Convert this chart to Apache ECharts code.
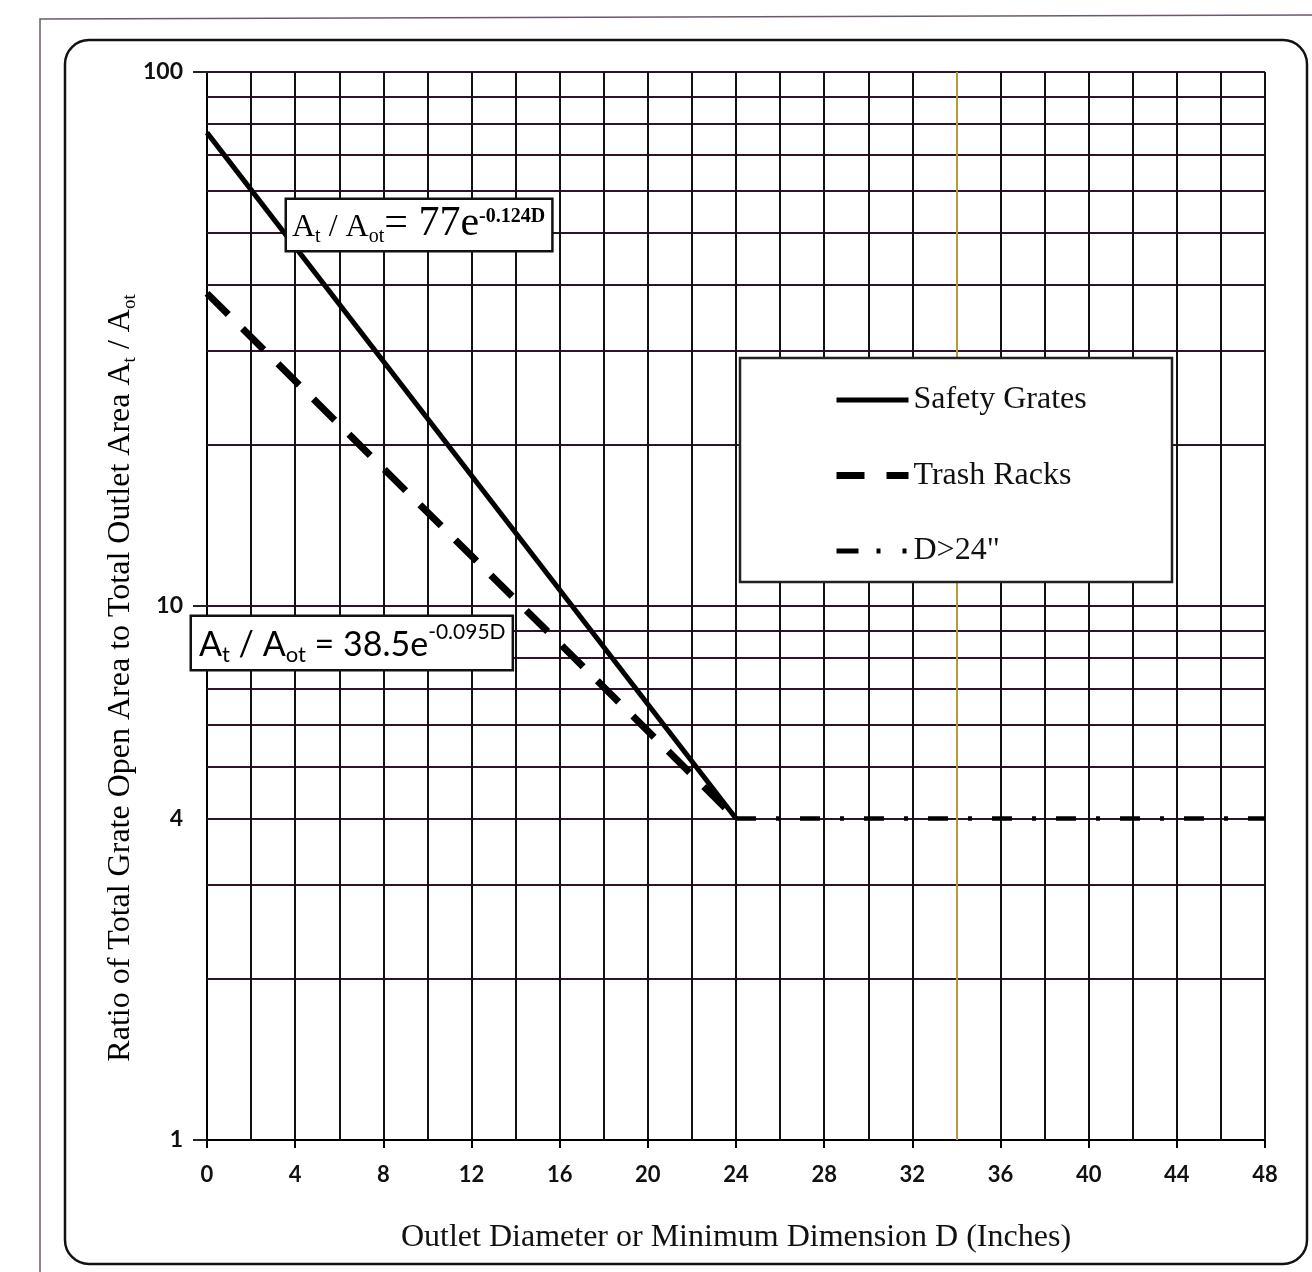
<!DOCTYPE html>
<html>
<head>
<meta charset="utf-8">
<script src="https://cdn.jsdelivr.net/npm/echarts@6/dist/echarts.min.js"></script>
<style>
html,body{margin:0;padding:0;background:#fff;}
#chart{width:1312px;height:1272px;}
</style>
</head>
<body>
<div id="chart"></div>
<script>
// ---- data ----
const xTickLabels = [0, 4, 8, 12, 16, 20, 24, 28, 32, 36, 40, 44, 48];
const xGridLines = [2, 4, 6, 8, 10, 12, 14, 16, 18, 20, 22, 24, 26, 28, 30, 32, 34, 36, 38, 40, 42, 44, 46, 48];
const yTickLabels = [1, 4, 10, 100];
const yMajorTicks = [1, 10, 100];
const yGridValues = [2, 3, 4, 5, 6, 7, 8, 9, 10, 20, 30, 40, 50, 60, 70, 80, 90, 100];
const highlightX = [34];

const seriesNames = ['Safety Grates', 'Trash Racks', 'D>24"'];
const safetyD = [0, 24];
const safetyRatio = [77, 4];
const trashD = [0, 24];
const trashRatio = [38.5, 4];
const largeD = [24, 48];
const largeRatio = [4, 4];

const pairs = (xs, ys) => xs.map((x, i) => [x, ys[i]]);

const chart = echarts.init(document.getElementById('chart'), null, {renderer: 'canvas', width: 1312, height: 1272});

const serif = 'Liberation Serif, Times New Roman, serif';
const sans = 'Lato, Open Sans, sans-serif';

const hLines = yGridValues.map(v => ({yAxis: v}));
const vLines = xGridLines.map(v => ({
  xAxis: v,
  lineStyle: highlightX.indexOf(v) >= 0
    ? {color: '#b39a3c', width: 2, type: 'solid'}
    : {color: '#111', width: 2, type: 'solid'}
}));

const option = {
  backgroundColor: '#fff',
  animation: false,
  grid: {left: 207, right: 47, top: 72, bottom: 132, containLabel: false},
  xAxis: {
    type: 'value', min: 0, max: 48, interval: 4,
    name: 'Outlet Diameter or Minimum Dimension D (Inches)',
    nameLocation: 'middle', nameGap: 82,
    nameTextStyle: {fontFamily: serif, fontSize: 32, color: '#111'},
    axisLine: {show: true, onZero: false, lineStyle: {color: '#000', width: 2}},
    axisTick: {show: true, customValues: xTickLabels, length: 8, lineStyle: {color: '#000', width: 2}},
    axisLabel: {customValues: xTickLabels, margin: 24, fontFamily: sans, fontWeight: 'bold', fontSize: 22, color: '#111'},
    splitLine: {show: false}
  },
  yAxis: {
    type: 'log', logBase: 10, min: 1, max: 100,
    axisLine: {show: true, onZero: false, lineStyle: {color: '#000', width: 2}},
    axisTick: {show: true, customValues: yMajorTicks, length: 14, lineStyle: {color: '#222', width: 2}},
    axisLabel: {customValues: yTickLabels, margin: 24, fontFamily: sans, fontWeight: 'bold', fontSize: 23, color: '#111'},
    splitLine: {show: false}
  },
  legend: {
    orient: 'vertical', left: 833, top: 384, padding: 0,
    itemWidth: 72, itemHeight: 28, itemGap: 43.5,
    itemStyle: {opacity: 0},
    textStyle: {fontFamily: serif, fontSize: 32, color: '#111', lineHeight: 28},
    data: [
      {name: seriesNames[0], lineStyle: {type: 'solid', width: 5, color: '#000'}},
      {name: seriesNames[1], lineStyle: {type: [28, 22], width: 7, color: '#000'}},
      {name: seriesNames[2], lineStyle: {type: [22, 18, 4, 22, 4, 2], width: 5, color: '#000'}}
    ],
    z: 21
  },
  series: [
    {
      name: 'grid', type: 'line', data: [], z: 1, silent: true,
      markLine: {
        silent: true, symbol: 'none', label: {show: false}, animation: false, z: 1,
        lineStyle: {color: '#2e1428', width: 1.8, type: 'solid'},
        data: hLines.concat(vLines)
      }
    },
    {
      name: seriesNames[0], type: 'line', data: pairs(safetyD, safetyRatio),
      symbol: 'none', showSymbol: false, z: 3,
      lineStyle: {color: '#000', width: 5, type: 'solid'},
      itemStyle: {color: '#000'}
    },
    {
      name: seriesNames[1], type: 'line', data: pairs(trashD, trashRatio),
      symbol: 'none', showSymbol: false, z: 3,
      lineStyle: {color: '#000', width: 7, type: [30, 20], cap: 'butt'},
      itemStyle: {color: '#000'}
    },
    {
      name: seriesNames[2], type: 'line', data: pairs(largeD, largeRatio),
      symbol: 'none', showSymbol: false, z: 3,
      lineStyle: {color: '#000', width: 4.5, type: [20, 20, 4, 20], cap: 'butt'},
      itemStyle: {color: '#000'}
    }
  ],
  graphic: [
    {type: 'polyline', z: 0, shape: {points: [[40, 1272], [40, 19], [1312, 15]]}, style: {stroke: '#6b5a6b', lineWidth: 1.5, fill: null}},
    {type: 'rect', z: 0, shape: {x: 65, y: 40, width: 1242, height: 1224, r: 24}, style: {stroke: '#141014', lineWidth: 2.5, fill: null}},
    {type: 'rect', z: 20, shape: {x: 740, y: 358, width: 432, height: 224}, style: {stroke: '#222', lineWidth: 2.5, fill: '#fff'}},
    {
      type: 'text', z: 20, x: 121, y: 678, rotation: Math.PI / 2,
      style: {
        text: '{n|Ratio of Total Grate Open Area to Total Outlet Area A}{s|t}{n| / A}{s|ot}',
        align: 'center', verticalAlign: 'middle',
        rich: {
          n: {fontFamily: serif, fontSize: 32, color: '#111', lineHeight: 38, verticalAlign: 'middle'},
          s: {fontFamily: serif, fontSize: 19, color: '#111', lineHeight: 38, verticalAlign: 'bottom'}
        }
      }
    },
    {
      type: 'text', z: 22, x: 287, y: 200,
      style: {
        text: '{a|A}{s|t}{a| / A}{s|ot}{b|= 77e}{p|-0.124D}',
        align: 'left', verticalAlign: 'top',
        backgroundColor: '#fff', borderColor: '#111', borderWidth: 2.5,
        padding: [3, 6, 3, 5],
        rich: {
          a: {fontFamily: serif, fontSize: 32, color: '#111', lineHeight: 44, verticalAlign: 'bottom', padding: [0, 0, 3, 0]},
          s: {fontFamily: serif, fontSize: 20, color: '#111', lineHeight: 44, verticalAlign: 'bottom'},
          b: {fontFamily: serif, fontSize: 42, color: '#111', lineHeight: 44, verticalAlign: 'bottom', padding: [0, 0, 2, 0]},
          p: {fontFamily: serif, fontSize: 20, fontWeight: 'bold', color: '#111', lineHeight: 44, verticalAlign: 'top', padding: [4, 0, 0, 0]}
        }
      }
    },
    {
      type: 'text', z: 22, x: 192, y: 617,
      style: {
        text: '{a|A}{s|t}{a| / A}{s|ot}{a| = 38.5e}{p|-0.095D}',
        align: 'left', verticalAlign: 'top',
        backgroundColor: '#fff', borderColor: '#111', borderWidth: 2.5,
        padding: [3, 6, 3, 7],
        rich: {
          a: {fontFamily: sans, fontSize: 34, color: '#111', lineHeight: 46, verticalAlign: 'bottom', padding: [0, 0, 4, 0]},
          s: {fontFamily: sans, fontSize: 22, color: '#111', lineHeight: 46, verticalAlign: 'bottom'},
          p: {fontFamily: sans, fontSize: 21, color: '#111', lineHeight: 46, verticalAlign: 'top', padding: [2, 0, 0, 0]}
        }
      }
    }
  ]
};

chart.setOption(option);
</script>
</body>
</html>
